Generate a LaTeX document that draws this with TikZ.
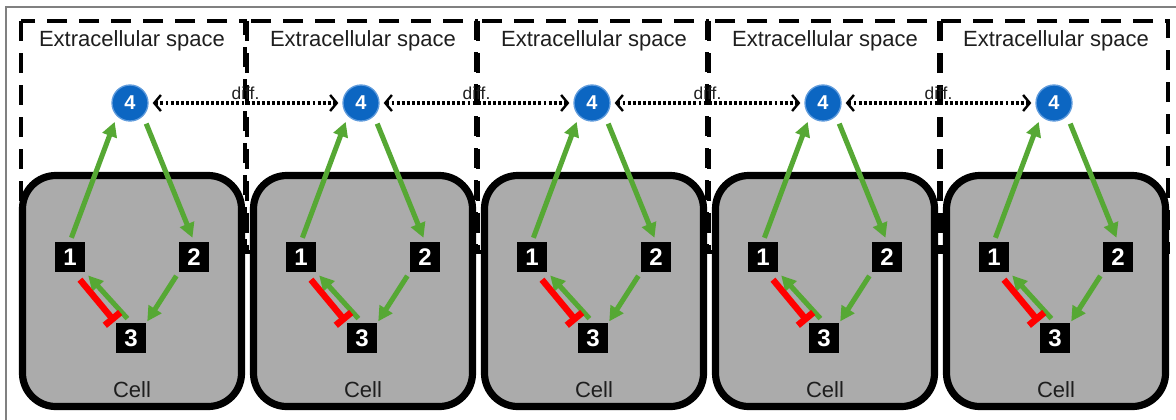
\documentclass[tikz,border=0pt]{standalone}
\usepackage{fontspec}
\setmainfont{Liberation Sans}
\usetikzlibrary{arrows.meta}

\definecolor{leafgreen}{RGB}{86,168,52}
\definecolor{nodeblue}{RGB}{12,102,194}
\definecolor{ringblue}{RGB}{95,155,220}
\definecolor{cellgray}{RGB}{171,171,171}
\definecolor{inkgray}{RGB}{30,30,30}
\definecolor{framegray}{RGB}{128,128,128}

\tikzset{every picture/.style={line width=0.75pt}}
\tikzset{
  extrabox/.style={dash pattern=on 15pt off 9pt, line width=2.3pt},
  cellbox/.style={fill=cellgray, draw=black, line width=5.4pt, rounded corners=25pt},
  numbox/.style={fill=black, text=white, font=\fontsize{18}{18}\selectfont\bfseries, minimum size=22.5pt, inner sep=0pt},
  molcircle/.style={circle, fill=nodeblue, draw=ringblue, line width=1pt, text=white, font=\fontsize{15}{15}\selectfont\bfseries, minimum size=27pt, inner sep=0pt},
  actarrow/.style={draw=leafgreen, line width=3.8pt, -{Triangle[length=11pt,width=11pt]}},
  inharrow/.style={draw=red, line width=4.8pt, -{Bar[width=15pt,line width=5pt]}},
  diffline/.style={dash pattern=on 2.2pt off 1.6pt, line width=2.3pt, {Straight Barb[length=5pt,width=12pt,line width=1.8pt]}-{Straight Barb[length=5pt,width=12pt,line width=1.8pt]}, shorten <=3pt, shorten >=3pt},
  labeltext/.style={text=inkgray, font=\fontsize{16.5}{16.5}\selectfont, inner sep=0.75pt},
  difftext/.style={text=inkgray, font=\fontsize{13}{13}\selectfont, inner sep=0.75pt, midway, above=0.5pt}
}

\begin{document}
\begin{tikzpicture}[x=0.75pt,y=0.75pt,yscale=-1,xscale=1]
        \useasboundingbox (0,0) rectangle (1176,419);

        %Straight Lines: outer frame
        \draw [draw=framegray, line width=1.5pt] (6,430) -- (6,7) -- (1190,7) ;

        %Shape: Rectangle, extracellular boxes
        \foreach \k/\cx/\xl/\xr in {1/132/21/245, 2/363/247/476, 3/594/478/707, 4/825/709/939, 5/1056/941/1168}{
          \draw [extrabox] (\xl,21) rectangle (\xr,252) ;
          % Text Node
          \node [labeltext] (e\k) at (\cx,41) {Extracellular space};
        }

        %Shape: Rounded Rect, cells
        \foreach \k/\cx in {1/132, 2/363, 3/594, 4/825, 5/1056}{
          \draw [cellbox] (\cx-109.5,175.5) rectangle (\cx+109.5,406.5) ;
          % Text Node
          \node [labeltext] (cell\k) at (\cx,390) {Cell};
          \node [numbox] (c\k-1) at (\cx-62,257) {1};
          \node [numbox] (c\k-2) at (\cx+62,257) {2};
          \node [numbox] (c\k-3) at (\cx-1,338) {3};
          \node [molcircle] (c\k-4) at (\cx-2,103) {4};
          %Straight Lines
          \draw [actarrow, shorten <=3pt, shorten >=4.5pt] (c\k-1.north) -- (c\k-4.south west) ;
          \draw [actarrow, shorten <=6pt, shorten >=3pt] (c\k-4.south east) -- (c\k-2.north) ;
          \draw [actarrow, shorten <=3pt, shorten >=1pt] (c\k-2.south west) -- (c\k-3.north east) ;
          \draw [actarrow, shorten <=4pt, shorten >=3pt] (c\k-3.north) -- (c\k-1.south east) ;
          \draw [inharrow, shorten <=7pt, shorten >=1pt] ([xshift=3pt]c\k-1.south) -- (c\k-3.north west) ;
        }

        %Dotted Lines: diffusion
        \foreach \a/\b in {1/2, 2/3, 3/4, 4/5}{
          \draw [diffline] (c\a-4) -- (c\b-4) node [difftext] (d\a) {diff.} ;
        }

\end{tikzpicture}
\end{document}
